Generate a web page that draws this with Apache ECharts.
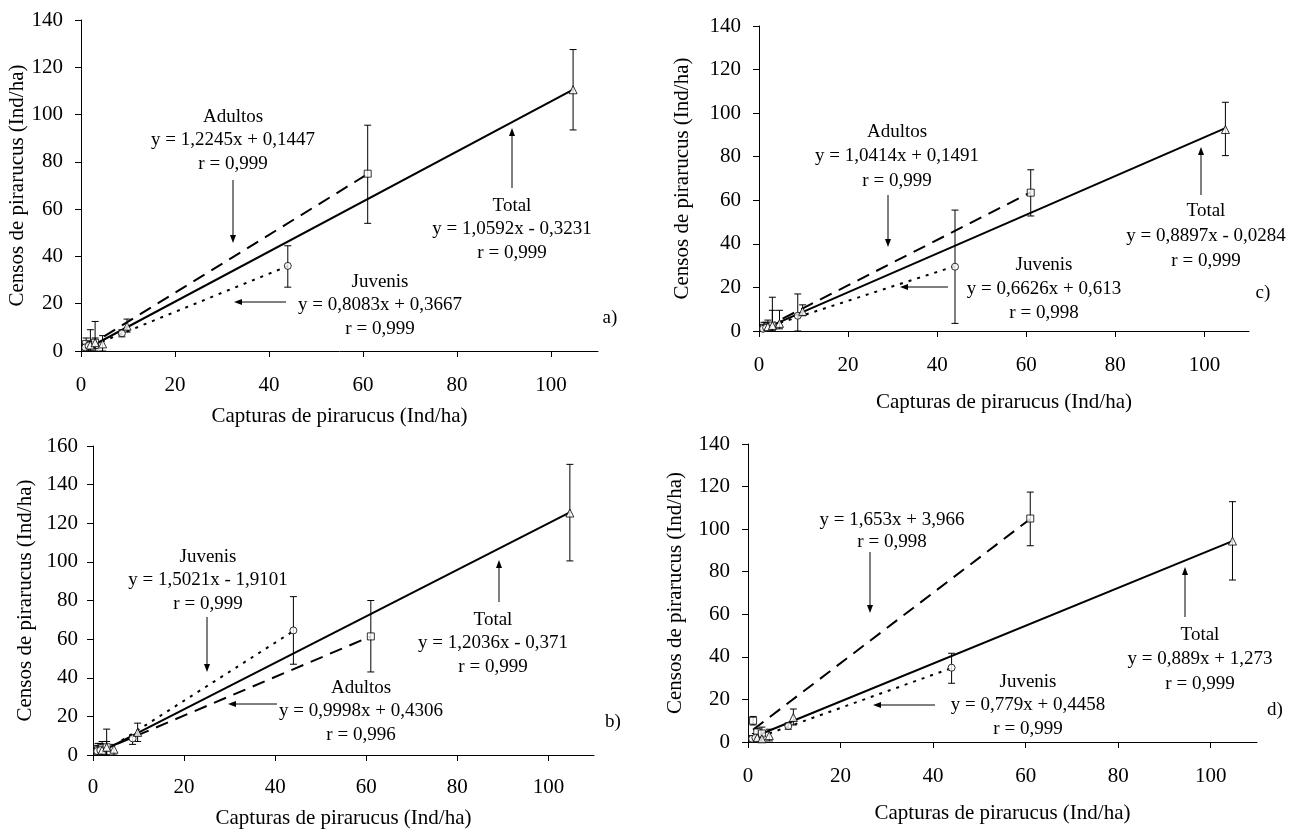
<!DOCTYPE html>
<html><head><meta charset="utf-8">
<script src="https://cdn.jsdelivr.net/npm/echarts@6/dist/echarts.min.js"></script>
<style>html,body{margin:0;padding:0;background:#fff}#c{width:1303px;height:830px}</style>
</head><body><div id="c"></div>
<script>
// ---------- tick labels ----------
const xTickValues = [0, 20, 40, 60, 80, 100];
const xMax = 110;
const yMaxA = 140, yMaxB = 160, yMaxC = 140, yMaxD = 140;
const xTitle = 'Capturas de pirarucus (Ind/ha)';
const yTitle = 'Censos de pirarucus (Ind/ha)';

// ---------- panel a ----------
const aAdultosX  = [1.1, 2.0, 3.0, 61];
const aAdultosY  = [3.0, 2.5, 3.5, 75];
const aAdultosLo = [0.5, 0, 0, 54];
const aAdultosHi = [5.5, 9, 12.5, 95.5];
const aJuvenisX  = [0.9, 1.6, 8.7, 44];
const aJuvenisY  = [1.5, 2.2, 7.5, 36];
const aJuvenisLo = [0, 0, 6, 27];
const aJuvenisHi = [3, 4, 9, 44.5];
const aTotalX  = [2.0, 3.0, 4.6, 9.8, 104.7];
const aTotalY  = [2.5, 3.5, 3.0, 10.5, 110.5];
const aTotalLo = [1, 1, 0, 8, 93.5];
const aTotalHi = [4, 5.5, 6.5, 13.5, 127.5];
const aAdultosLineX = [1.1, 61],  aAdultosLineY = [1.49, 74.84];
const aJuvenisLineX = [0.9, 44],  aJuvenisLineY = [1.09, 35.93];
const aTotalLineX   = [2, 104.7], aTotalLineY   = [1.80, 110.58];

// ---------- panel b ----------
const bAdultosX  = [1.1, 2.0, 3.0, 61];
const bAdultosY  = [2.5, 3.5, 4.0, 61.4];
const bAdultosLo = [0, 0, 0, 43];
const bAdultosHi = [6, 7, 13.4, 80];
const bJuvenisX  = [0.9, 1.6, 8.7, 44];
const bJuvenisY  = [2.0, 2.5, 8.6, 64.5];
const bJuvenisLo = [0, 0, 5.5, 47];
const bJuvenisHi = [5, 6, 10, 82];
const bTotalX  = [2.0, 3.0, 4.6, 9.8, 104.7];
const bTotalY  = [2.5, 4.0, 3.0, 11.7, 125.3];
const bTotalLo = [0, 0, 0, 7, 100.5];
const bTotalHi = [5, 7, 5.5, 16.5, 150.5];
const bAdultosLineX = [1.1, 61],  bAdultosLineY = [1.53, 61.42];
const bJuvenisLineX = [1.3, 44],  bJuvenisLineY = [0.04, 64.18];
const bTotalLineX   = [2, 104.7], bTotalLineY   = [2.04, 125.65];

// ---------- panel c ----------
const cAdultosX  = [1.1, 2.0, 3.0, 61];
const cAdultosY  = [1.5, 2.0, 2.5, 63.5];
const cAdultosLo = [0, 0, 0, 52.8];
const cAdultosHi = [4, 5, 15.5, 74];
const cJuvenisX  = [0.9, 1.6, 8.7, 44];
const cJuvenisY  = [1.0, 1.5, 7.0, 29.5];
const cJuvenisLo = [0, 0, 0, 3.5];
const cJuvenisHi = [3, 4, 17, 55.5];
const cTotalX  = [2.0, 3.0, 4.6, 9.8, 104.7];
const cTotalY  = [2.0, 2.5, 3.5, 9.0, 92.5];
const cTotalLo = [1, 0, 1, 7, 80.5];
const cTotalHi = [3, 9.5, 9.5, 12, 105];
const cAdultosLineX = [1.1, 61],  cAdultosLineY = [1.30, 63.67];
const cJuvenisLineX = [0.9, 44],  cJuvenisLineY = [1.21, 29.77];
const cTotalLineX   = [2, 104.7], cTotalLineY   = [1.75, 93.12];

// ---------- panel d ----------
const dAdultosX  = [1.1, 2.0, 3.0, 61];
const dAdultosY  = [10, 4.5, 4.0, 105];
const dAdultosLo = [8, 2, 1, 92.2];
const dAdultosHi = [12, 6.5, 7, 117.4];
const dJuvenisX  = [0.9, 1.6, 8.7, 44];
const dJuvenisY  = [1.5, 2.0, 7.5, 34.9];
const dJuvenisLo = [0, 0, 6, 27.6];
const dJuvenisHi = [3, 4, 9, 41.7];
const dTotalX  = [2.0, 3.0, 4.6, 9.8, 104.7];
const dTotalY  = [2.0, 1.5, 3.0, 11.5, 94.4];
const dTotalLo = [0, 0, 0.5, 8, 76.1];
const dTotalHi = [4, 3, 6, 15.5, 112.9];
const dAdultosLineX = [1.1, 61],  dAdultosLineY = [5.78, 104.80];
const dJuvenisLineX = [0.9, 44],  dJuvenisLineY = [1.15, 34.72];
const dTotalLineX   = [2, 104.7], dTotalLineY   = [3.05, 94.35];

// ---------- helpers ----------
const FONT = '"Liberation Serif", "Times New Roman", serif';
const zip = (xs, ys) => xs.map((x, i) => [x, ys[i]]);

function errSeries(idx, xs, lo, hi) {
  return {
    type: 'custom', xAxisIndex: idx, yAxisIndex: idx, silent: true, z: 3,
    data: xs.map((x, i) => [x, lo[i], hi[i]]),
    encode: { x: 0, y: [1, 2] },
    renderItem(params, api) {
      const p1 = api.coord([api.value(0), api.value(1)]);
      const p2 = api.coord([api.value(0), api.value(2)]);
      const w = 3.5, st = { stroke: '#000', lineWidth: 1 };
      return { type: 'group', children: [
        { type: 'line', shape: { x1: p1[0], y1: p1[1], x2: p2[0], y2: p2[1] }, style: st },
        { type: 'line', shape: { x1: p1[0] - w, y1: p1[1], x2: p1[0] + w, y2: p1[1] }, style: st },
        { type: 'line', shape: { x1: p2[0] - w, y1: p2[1], x2: p2[0] + w, y2: p2[1] }, style: st }
      ]};
    }
  };
}
function scat(idx, xs, ys, symbol, size) {
  return { type: 'scatter', xAxisIndex: idx, yAxisIndex: idx, z: 4, silent: true,
    data: zip(xs, ys), symbol, symbolSize: size,
    itemStyle: { color: '#fff', borderColor: '#000', borderWidth: 1 } };
}
function fit(idx, xs, ys, type) {
  return { type: 'line', xAxisIndex: idx, yAxisIndex: idx, z: 2, silent: true,
    data: zip(xs, ys), symbol: 'none',
    lineStyle: { color: '#000', width: 2, type } };
}
function panel(idx, d) {
  return [
    fit(idx, d.tlx, d.tly, 'solid'),
    fit(idx, d.alx, d.aly, [13, 8]),
    fit(idx, d.jlx, d.jly, [3, 6]),
    errSeries(idx, d.ax, d.alo, d.ahi),
    errSeries(idx, d.jx, d.jlo, d.jhi),
    errSeries(idx, d.tx, d.tlo, d.thi),
    scat(idx, d.ax, d.ay, 'rect', 7),
    scat(idx, d.jx, d.jy, 'circle', 7),
    scat(idx, d.tx, d.ty, 'triangle', 8)
  ];
}
function xAx(idx, margin, gap) {
  return { type: 'value', gridIndex: idx, min: 0, max: xMax,
    name: xTitle, nameLocation: 'middle', nameGap: gap,
    nameTextStyle: { fontFamily: FONT, fontSize: 21, color: '#000' },
    axisLine: { show: true, lineStyle: { color: '#000', width: 1 } },
    axisTick: { show: true, length: 6, customValues: xTickValues, lineStyle: { color: '#000' } },
    axisLabel: { customValues: xTickValues, margin, fontFamily: FONT, fontSize: 21, color: '#000' },
    splitLine: { show: false } };
}
function yAx(idx, max, margin, gap) {
  return { type: 'value', gridIndex: idx, min: 0, max, interval: 20,
    name: yTitle, nameLocation: 'middle', nameGap: gap,
    nameTextStyle: { fontFamily: FONT, fontSize: 21, color: '#000' },
    axisLine: { show: true, lineStyle: { color: '#000', width: 1 } },
    axisTick: { show: true, length: 6, lineStyle: { color: '#000' } },
    axisLabel: { margin, fontFamily: FONT, fontSize: 21, color: '#000' },
    splitLine: { show: false } };
}

// ---------- annotations ----------
function txt(x, y, s) {
  return { type: 'text', silent: true, z: 10, style: { x, y, text: s, font: '19px ' + FONT,
    fill: '#000', align: 'center', verticalAlign: 'middle' } };
}
function block(x, y, lines, lh) {
  return lines.map((s, i) => txt(x, y + i * (lh || 23.5), s));
}
function arrow(x1, y1, x2, y2) {
  const dx = x2 - x1, dy = y2 - y1, L = Math.hypot(dx, dy), ux = dx / L, uy = dy / L;
  const hl = 8, hw = 3;
  const bx = x2 - ux * hl, by = y2 - uy * hl;
  return [
    { type: 'line', silent: true, z: 10, shape: { x1, y1, x2: bx, y2: by }, style: { stroke: '#000', lineWidth: 1 } },
    { type: 'polygon', silent: true, z: 10, shape: { points: [[x2, y2], [bx - uy * hw, by + ux * hw], [bx + uy * hw, by - ux * hw]] }, style: { fill: '#000' } }
  ];
}

const graphics = [].concat(
  // a
  block(233, 117, ['Adultos', 'y = 1,2245x + 0,1447', 'r = 0,999']),
  arrow(233, 180, 233, 243),
  block(512, 206, ['Total', 'y = 1,0592x - 0,3231', 'r = 0,999']),
  arrow(512, 188, 512, 128),
  block(380, 282, ['Juvenis', 'y = 0,8083x + 0,3667', 'r = 0,999']),
  arrow(286, 302, 234, 302),
  [txt(610, 318, 'a)')],
  // c
  block(897, 132, ['Adultos', 'y = 1,0414x + 0,1491', 'r = 0,999'], 24.5),
  arrow(888, 195, 888, 247),
  block(1206, 211, ['Total', 'y = 0,8897x - 0,0284', 'r = 0,999'], 25),
  arrow(1201, 195, 1201, 147),
  block(1044, 265, ['Juvenis', 'y = 0,6626x + 0,613', 'r = 0,998'], 24),
  arrow(948, 287, 900, 287),
  [txt(1263, 293, 'c)')],
  // b
  block(208, 557, ['Juvenis', 'y = 1,5021x - 1,9101', 'r = 0,999']),
  arrow(207, 617, 207, 672),
  block(493, 620, ['Total', 'y = 1,2036x - 0,371', 'r = 0,999']),
  arrow(499, 602, 499, 560),
  block(361, 688, ['Adultos', 'y = 0,9998x + 0,4306', 'r = 0,996']),
  arrow(277, 704, 228, 704),
  [txt(613, 722, 'b)')],
  // d
  block(892, 520, ['y = 1,653x + 3,966', 'r = 0,998'], 22),
  arrow(870, 552, 870, 613),
  block(1200, 635, ['Total', 'y = 0,889x + 1,273', 'r = 0,999'], 24.5),
  arrow(1185, 617, 1185, 567),
  block(1028, 682, ['Juvenis', 'y = 0,779x + 0,4458', 'r = 0,999']),
  arrow(935, 705, 873, 705),
  [txt(1275, 710, 'd)')]
);

const chart = echarts.init(document.getElementById('c'), null, { renderer: 'canvas' });
chart.setOption({
  backgroundColor: '#fff',
  animation: false,
  grid: [
    { left: 81,  top: 20,  width: 517, height: 331 },
    { left: 93,  top: 446, width: 501, height: 310 },
    { left: 759, top: 26,  width: 490, height: 305 },
    { left: 748, top: 444, width: 509, height: 298 }
  ],
  xAxis: [ xAx(0, 24, 55), xAx(1, 22, 53), xAx(2, 24, 61), xAx(3, 24, 61) ],
  yAxis: [ yAx(0, yMaxA, 18, 52), yAx(1, yMaxB, 15, 57), yAx(2, yMaxC, 18, 66), yAx(3, yMaxD, 18, 62) ],
  series: [].concat(
    panel(0, { ax: aAdultosX, ay: aAdultosY, alo: aAdultosLo, ahi: aAdultosHi,
               jx: aJuvenisX, jy: aJuvenisY, jlo: aJuvenisLo, jhi: aJuvenisHi,
               tx: aTotalX, ty: aTotalY, tlo: aTotalLo, thi: aTotalHi,
               alx: aAdultosLineX, aly: aAdultosLineY, jlx: aJuvenisLineX, jly: aJuvenisLineY,
               tlx: aTotalLineX, tly: aTotalLineY }),
    panel(1, { ax: bAdultosX, ay: bAdultosY, alo: bAdultosLo, ahi: bAdultosHi,
               jx: bJuvenisX, jy: bJuvenisY, jlo: bJuvenisLo, jhi: bJuvenisHi,
               tx: bTotalX, ty: bTotalY, tlo: bTotalLo, thi: bTotalHi,
               alx: bAdultosLineX, aly: bAdultosLineY, jlx: bJuvenisLineX, jly: bJuvenisLineY,
               tlx: bTotalLineX, tly: bTotalLineY }),
    panel(2, { ax: cAdultosX, ay: cAdultosY, alo: cAdultosLo, ahi: cAdultosHi,
               jx: cJuvenisX, jy: cJuvenisY, jlo: cJuvenisLo, jhi: cJuvenisHi,
               tx: cTotalX, ty: cTotalY, tlo: cTotalLo, thi: cTotalHi,
               alx: cAdultosLineX, aly: cAdultosLineY, jlx: cJuvenisLineX, jly: cJuvenisLineY,
               tlx: cTotalLineX, tly: cTotalLineY }),
    panel(3, { ax: dAdultosX, ay: dAdultosY, alo: dAdultosLo, ahi: dAdultosHi,
               jx: dJuvenisX, jy: dJuvenisY, jlo: dJuvenisLo, jhi: dJuvenisHi,
               tx: dTotalX, ty: dTotalY, tlo: dTotalLo, thi: dTotalHi,
               alx: dAdultosLineX, aly: dAdultosLineY, jlx: dJuvenisLineX, jly: dJuvenisLineY,
               tlx: dTotalLineX, tly: dTotalLineY })
  ),
  graphic: graphics
});
</script>
</body></html>
